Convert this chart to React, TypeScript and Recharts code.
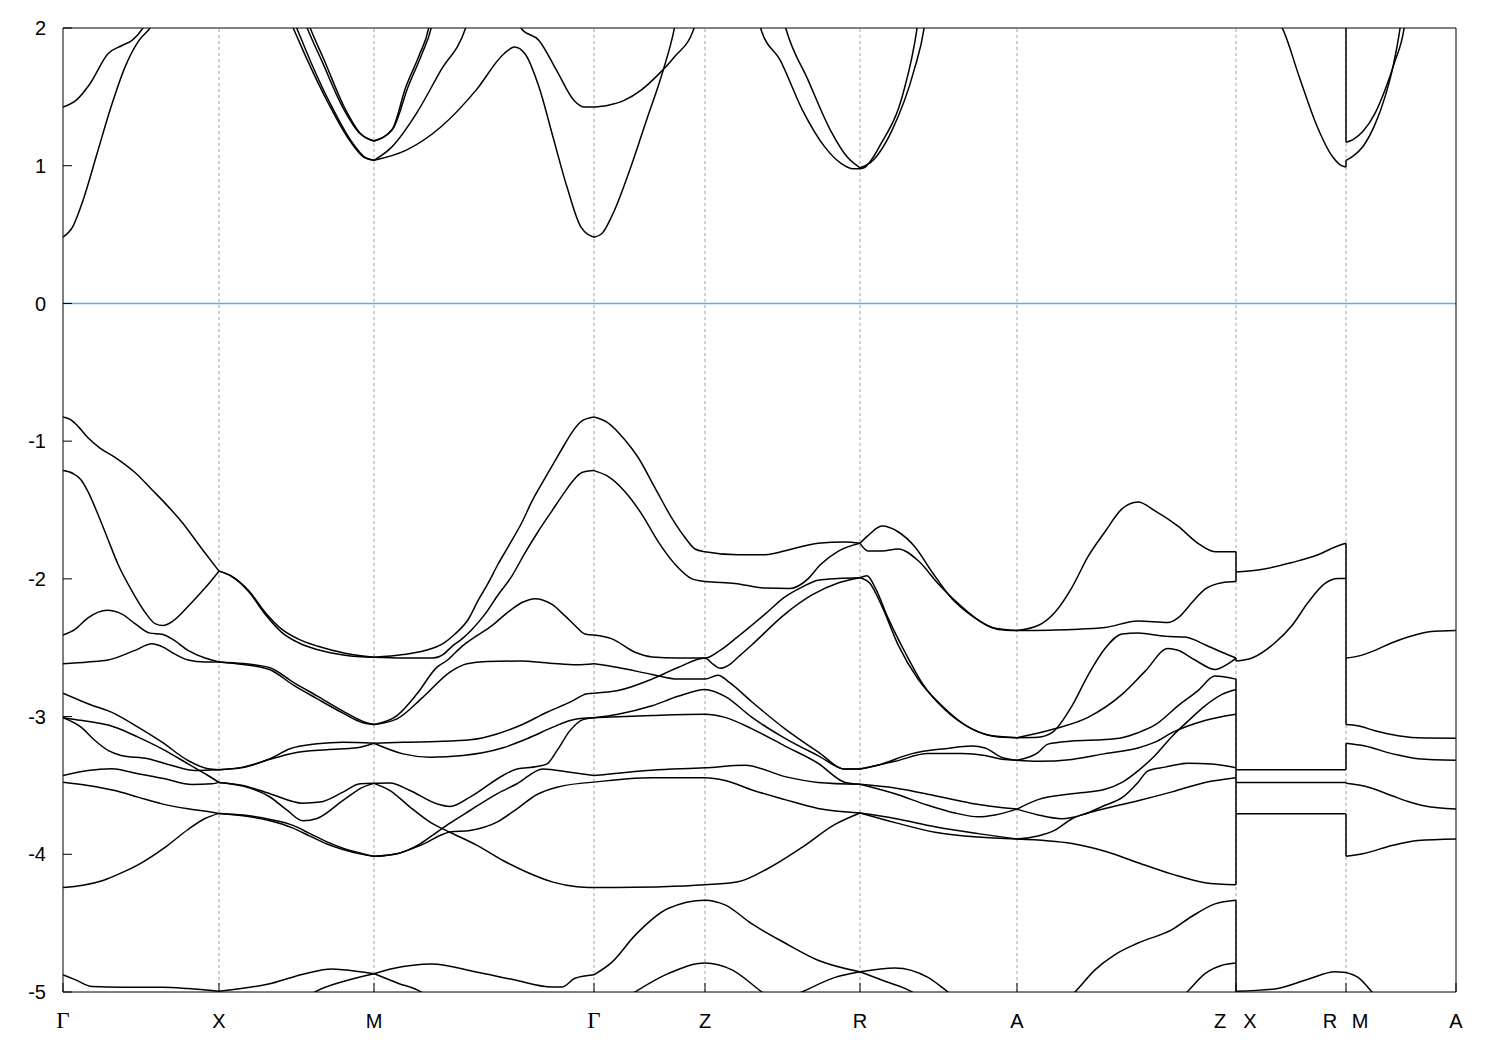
import { LineChart, Line, XAxis, YAxis, ReferenceLine } from 'recharts'

type Pt = [number, number]

// k-path: high-symmetry points (arbitrary k units) and their labels
const kTicks = [0, 156, 311, 531, 642, 797, 954, 1173, 1283, 1393]
const kLabels = ['Γ', 'X', 'M', 'Γ', 'Z', 'R', 'A', 'Z|X', 'R|M', 'A']
const eTicks = [-5, -4, -3, -2, -1, 0, 1, 2]

// valence bands, grouped by path segment: [k, E(eV)]
const gammaX: Pt[][] = [
  [[0, -0.825], [8, -0.845], [16, -0.9], [25, -0.975], [37, -1.05], [52, -1.117], [72, -1.228], [89, -1.353], [102, -1.45], [119, -1.589], [139, -1.783], [156, -1.944]],
  [[0, -1.214], [10, -1.235], [18, -1.28], [25, -1.367], [35, -1.533], [45, -1.714], [55, -1.894], [69, -2.089], [82, -2.242], [92, -2.325], [100, -2.339], [110, -2.306], [125, -2.2], [142, -2.067], [156, -1.944]],
  [[0, -2.408], [12, -2.367], [25, -2.283], [44, -2.228], [59, -2.256], [72, -2.325], [87, -2.394], [99, -2.403], [109, -2.436], [125, -2.519], [142, -2.575], [156, -2.603]],
  [[0, -2.617], [25, -2.603], [45, -2.589], [72, -2.519], [89, -2.472], [99, -2.492], [112, -2.547], [125, -2.589], [142, -2.603], [156, -2.603]],
  [[0, -2.83], [25, -2.907], [52, -2.98], [75, -3.077], [99, -3.186], [125, -3.319], [145, -3.379], [156, -3.386]],
  [[0, -3.009], [10, -3.02], [52, -3.077], [75, -3.149], [99, -3.234], [125, -3.343], [145, -3.428], [156, -3.478]],
  [[0, -3.009], [18, -3.077], [32, -3.174], [45, -3.246], [58, -3.282], [85, -3.306], [109, -3.355], [132, -3.391], [156, -3.386]],
  [[0, -3.428], [25, -3.391], [49, -3.379], [75, -3.415], [102, -3.452], [129, -3.493], [149, -3.488], [156, -3.478]],
  [[0, -3.476], [25, -3.5], [52, -3.537], [75, -3.585], [99, -3.634], [125, -3.67], [145, -3.69], [156, -3.703]],
  [[0, -4.242], [20, -4.225], [40, -4.19], [60, -4.13], [79, -4.06], [102, -3.95], [125, -3.82], [142, -3.74], [156, -3.703]],
  [[0, -4.875], [12, -4.91], [29, -4.96], [59, -4.965], [100, -4.965], [125, -4.975], [156, -4.995]],
]

const xM: Pt[][] = [
  [[156, -1.944], [169, -1.983], [186, -2.089], [202, -2.242], [219, -2.367], [235, -2.436], [255, -2.49], [282, -2.54], [311, -2.57]],
  [[156, -1.944], [169, -1.983], [186, -2.095], [202, -2.255], [219, -2.39], [235, -2.462], [255, -2.515], [282, -2.555], [311, -2.57]],
  [[156, -2.603], [180, -2.615], [207, -2.645], [230, -2.75], [254, -2.85], [280, -2.96], [300, -3.035], [311, -3.058]],
  [[156, -2.603], [180, -2.622], [207, -2.66], [230, -2.77], [254, -2.87], [280, -2.975], [300, -3.045], [311, -3.058]],
  [[156, -3.386], [180, -3.367], [207, -3.306], [227, -3.234], [254, -3.198], [280, -3.186], [311, -3.194]],
  [[156, -3.386], [180, -3.37], [207, -3.31], [230, -3.266], [264, -3.241], [294, -3.227], [311, -3.194]],
  [[156, -3.478], [180, -3.5], [207, -3.56], [240, -3.629], [257, -3.621], [280, -3.549], [297, -3.488], [311, -3.485]],
  [[156, -3.478], [180, -3.505], [207, -3.584], [224, -3.68], [240, -3.757], [254, -3.74], [280, -3.609], [300, -3.512], [311, -3.485]],
  [[156, -3.703], [180, -3.715], [207, -3.747], [230, -3.79], [247, -3.85], [264, -3.91], [280, -3.955], [297, -3.99], [311, -4.015]],
  [[156, -3.703], [180, -3.72], [207, -3.757], [230, -3.81], [247, -3.868], [264, -3.925], [280, -3.965], [297, -3.997], [311, -4.015]],
  [[156, -4.995], [209, -4.936], [242, -4.867], [269, -4.833], [280, -4.839], [311, -4.867]],
  [[236, -5.08], [252, -5.0], [282, -4.92], [311, -4.867]],
]

const mGamma: Pt[][] = [
  [[311, -2.57], [340, -2.55], [362, -2.52], [380, -2.47], [392, -2.4], [405, -2.297], [415, -2.158], [425, -2.033], [435, -1.894], [445, -1.769], [459, -1.589], [469, -1.436], [482, -1.269], [492, -1.144], [502, -1.019], [509, -0.936], [519, -0.853], [531, -0.825]],
  [[311, -2.57], [340, -2.575], [370, -2.575], [380, -2.55], [389, -2.49], [399, -2.436], [409, -2.367], [422, -2.256], [435, -2.117], [449, -1.978], [462, -1.811], [475, -1.658], [489, -1.506], [502, -1.367], [509, -1.297], [519, -1.228], [531, -1.214]],
  [[311, -3.058], [334, -2.993], [354, -2.835], [374, -2.641], [384, -2.593], [399, -2.49], [412, -2.422], [429, -2.339], [445, -2.242], [459, -2.172], [472, -2.144], [489, -2.186], [502, -2.269], [512, -2.339], [522, -2.4], [531, -2.408]],
  [[311, -3.058], [334, -3.017], [360, -2.859], [387, -2.677], [404, -2.617], [424, -2.6], [457, -2.597], [487, -2.612], [514, -2.624], [531, -2.617]],
  [[311, -3.194], [340, -3.186], [374, -3.181], [407, -3.169], [434, -3.126], [457, -3.065], [484, -2.969], [507, -2.895], [524, -2.835], [531, -2.83]],
  [[311, -3.194], [340, -3.271], [367, -3.295], [400, -3.283], [440, -3.227], [464, -3.161], [490, -3.077], [507, -3.028], [520, -3.012], [531, -3.009]],
  [[311, -3.485], [327, -3.483], [347, -3.537], [374, -3.634], [387, -3.653], [407, -3.585], [440, -3.428], [454, -3.38], [474, -3.363], [484, -3.344], [494, -3.247], [507, -3.102], [520, -3.022], [531, -3.009]],
  [[311, -3.485], [327, -3.537], [347, -3.657], [367, -3.766], [387, -3.84], [414, -3.935], [440, -4.045], [464, -4.13], [490, -4.202], [514, -4.236], [531, -4.242]],
  [[311, -4.015], [334, -3.996], [357, -3.924], [374, -3.839], [387, -3.774], [407, -3.682], [434, -3.561], [454, -3.488], [480, -3.38], [507, -3.404], [531, -3.428]],
  [[311, -4.015], [334, -3.996], [357, -3.936], [387, -3.839], [407, -3.827], [434, -3.766], [454, -3.67], [474, -3.566], [494, -3.513], [531, -3.476]],
  [[311, -4.867], [330, -4.83], [369, -4.797], [412, -4.853], [450, -4.91], [489, -4.964], [499, -4.964], [512, -4.9], [531, -4.875]],
  [[311, -4.867], [335, -4.936], [358, -5.0], [372, -5.08]],
]

// Γ -> Z -> R
const gammaR: Pt[][] = [
  [[531, -0.825], [545, -0.867], [562, -0.992], [575, -1.117], [592, -1.339], [609, -1.561], [622, -1.7], [632, -1.783], [642, -1.803], [675, -1.825], [702, -1.825], [729, -1.783], [755, -1.742], [782, -1.733], [797, -1.742]],
  [[531, -1.214], [545, -1.256], [562, -1.367], [579, -1.533], [595, -1.728], [612, -1.894], [629, -2.0], [642, -2.019], [672, -2.033], [702, -2.067], [727, -2.07], [745, -2.0], [757, -1.9], [775, -1.8], [797, -1.742]],
  [[531, -2.408], [549, -2.436], [572, -2.533], [589, -2.567], [615, -2.575], [642, -2.575], [657, -2.52], [672, -2.436], [702, -2.256], [722, -2.131], [739, -2.06], [755, -2.01], [775, -1.997], [797, -1.992]],
  [[531, -2.83], [555, -2.811], [589, -2.728], [615, -2.644], [642, -2.575], [650, -2.62], [657, -2.65], [665, -2.63], [677, -2.556], [689, -2.478], [722, -2.256], [749, -2.117], [775, -2.03], [797, -1.992]],
  [[531, -2.617], [555, -2.644], [589, -2.694], [615, -2.728], [642, -2.728], [655, -2.7], [667, -2.756], [689, -2.894], [722, -3.089], [755, -3.256], [782, -3.381], [797, -3.381]],
  [[531, -3.009], [555, -2.983], [589, -2.922], [615, -2.853], [642, -2.803], [662, -2.853], [689, -3.006], [722, -3.158], [755, -3.283], [782, -3.381], [797, -3.381]],
  [[531, -3.009], [589, -2.992], [642, -2.983], [662, -3.006], [689, -3.089], [722, -3.214], [755, -3.339], [782, -3.478], [797, -3.492]],
  [[531, -3.428], [589, -3.389], [642, -3.372], [682, -3.353], [722, -3.436], [755, -3.478], [797, -3.492]],
  [[531, -3.476], [589, -3.444], [642, -3.444], [662, -3.464], [689, -3.533], [722, -3.603], [755, -3.667], [797, -3.7]],
  [[531, -4.242], [599, -4.236], [642, -4.222], [675, -4.2], [705, -4.103], [739, -3.95], [772, -3.783], [797, -3.7]],
  [[531, -4.875], [549, -4.783], [572, -4.589], [605, -4.394], [642, -4.333], [662, -4.367], [689, -4.506], [722, -4.644], [755, -4.769], [797, -4.853]],
  [[555, -5.08], [572, -5.0], [605, -4.867], [642, -4.789], [669, -4.839], [699, -5.0], [715, -5.08]],
  [[720, -5.06], [739, -5.0], [772, -4.894], [797, -4.853]],
]

const rA: Pt[][] = [
  [[797, -1.742], [805, -1.686], [819, -1.617], [835, -1.658], [852, -1.769], [869, -1.95], [889, -2.144], [909, -2.269], [929, -2.353], [954, -2.375]],
  [[797, -1.742], [805, -1.797], [819, -1.797], [835, -1.783], [855, -1.867], [875, -2.033], [892, -2.158], [915, -2.297], [935, -2.367], [954, -2.375]],
  [[797, -1.992], [804, -1.978], [812, -2.061], [825, -2.283], [842, -2.533], [859, -2.756], [882, -2.95], [909, -3.089], [932, -3.144], [954, -3.153]],
  [[797, -1.992], [807, -2.033], [819, -2.2], [835, -2.478], [855, -2.728], [879, -2.922], [905, -3.075], [929, -3.139], [954, -3.153]],
  [[797, -3.381], [815, -3.353], [849, -3.269], [882, -3.233], [909, -3.214], [922, -3.228], [939, -3.297], [954, -3.317]],
  [[797, -3.381], [832, -3.325], [865, -3.269], [899, -3.269], [922, -3.283], [939, -3.31], [954, -3.317]],
  [[797, -3.492], [832, -3.519], [872, -3.575], [909, -3.631], [954, -3.672]],
  [[797, -3.492], [832, -3.561], [865, -3.644], [892, -3.7], [915, -3.728], [932, -3.714], [954, -3.672]],
  [[797, -3.7], [832, -3.74], [872, -3.8], [915, -3.85], [954, -3.889]],
  [[797, -3.7], [832, -3.77], [872, -3.84], [915, -3.875], [954, -3.889]],
  [[797, -4.853], [832, -4.825], [865, -4.894], [885, -5.0], [900, -5.08]],
  [[797, -4.853], [822, -4.922], [849, -5.0], [860, -5.06]],
]

const aZ: Pt[][] = [
  [[954, -2.375], [975, -2.339], [992, -2.242], [1009, -2.061], [1025, -1.839], [1042, -1.658], [1059, -1.492], [1075, -1.442], [1092, -1.506], [1115, -1.617], [1135, -1.742], [1152, -1.803], [1173, -1.803]],
  [[954, -2.375], [1009, -2.367], [1042, -2.353], [1075, -2.306], [1105, -2.317], [1115, -2.283], [1129, -2.172], [1142, -2.075], [1159, -2.028], [1173, -2.019]],
  [[954, -3.153], [975, -3.15], [989, -3.117], [1009, -2.922], [1025, -2.7], [1042, -2.506], [1059, -2.4], [1075, -2.394], [1102, -2.417], [1122, -2.422], [1142, -2.478], [1159, -2.533], [1173, -2.575]],
  [[954, -3.153], [989, -3.094], [1025, -3.006], [1059, -2.839], [1082, -2.672], [1105, -2.506], [1115, -2.519], [1132, -2.589], [1152, -2.658], [1165, -2.617], [1173, -2.575]],
  [[954, -3.317], [975, -3.325], [1009, -3.311], [1042, -3.269], [1075, -3.228], [1092, -3.186], [1109, -3.117], [1142, -3.028], [1173, -2.983]],
  [[954, -3.317], [975, -3.261], [985, -3.2], [1009, -3.178], [1042, -3.167], [1059, -3.153], [1075, -3.117], [1092, -3.061], [1115, -2.922], [1135, -2.811], [1152, -2.706], [1173, -2.728]],
  [[954, -3.672], [975, -3.603], [1009, -3.561], [1042, -3.528], [1059, -3.478], [1075, -3.394], [1092, -3.283], [1109, -3.144], [1125, -3.033], [1142, -2.922], [1159, -2.839], [1173, -2.803]],
  [[954, -3.672], [975, -3.714], [999, -3.742], [1019, -3.714], [1042, -3.644], [1059, -3.589], [1075, -3.478], [1085, -3.394], [1102, -3.367], [1125, -3.339], [1149, -3.344], [1173, -3.372]],
  [[954, -3.889], [975, -3.867], [992, -3.825], [1009, -3.742], [1025, -3.7], [1042, -3.667], [1075, -3.611], [1109, -3.547], [1142, -3.478], [1173, -3.444]],
  [[954, -3.889], [1009, -3.922], [1042, -3.978], [1075, -4.061], [1109, -4.144], [1142, -4.206], [1173, -4.222]],
  [[998, -5.1], [1012, -5.0], [1032, -4.839], [1052, -4.728], [1075, -4.644], [1109, -4.547], [1129, -4.45], [1152, -4.36], [1173, -4.333]],
  [[1112, -5.08], [1124, -5.0], [1142, -4.867], [1159, -4.806], [1173, -4.789]],
]

const xR: Pt[][] = [
  [[1173, -1.95], [1195, -1.936], [1229, -1.881], [1255, -1.825], [1272, -1.769], [1283, -1.742]],
  [[1173, -2.597], [1189, -2.575], [1212, -2.464], [1229, -2.339], [1245, -2.172], [1262, -2.033], [1275, -1.997], [1283, -1.997]],
  [[1173, -3.386], [1283, -3.386]],
  [[1173, -3.478], [1283, -3.478]],
  [[1173, -3.706], [1283, -3.706]],
  [[1173, -4.995], [1212, -4.978], [1245, -4.908], [1272, -4.853], [1283, -4.858]],
]

const mA: Pt[][] = [
  [[1283, -2.575], [1295, -2.561], [1312, -2.519], [1329, -2.464], [1345, -2.422], [1362, -2.389], [1379, -2.378], [1393, -2.375]],
  [[1283, -3.058], [1295, -3.067], [1312, -3.103], [1335, -3.139], [1362, -3.156], [1393, -3.158]],
  [[1283, -3.194], [1302, -3.214], [1329, -3.269], [1355, -3.306], [1393, -3.317]],
  [[1283, -3.485], [1302, -3.506], [1329, -3.575], [1345, -3.617], [1362, -3.65], [1393, -3.672]],
  [[1283, -4.015], [1302, -3.992], [1329, -3.936], [1355, -3.9], [1393, -3.889]],
  [[1283, -4.858], [1295, -4.894], [1309, -5.0], [1320, -5.1]],
]

// conduction bands
const condGX: Pt[][] = [
  [[0, 0.481], [9.5, 0.554], [20, 0.748], [34, 1.087], [48, 1.426], [62, 1.716], [76, 1.91], [87, 2.0], [95, 2.1]],
  [[0, 1.426], [13, 1.474], [27, 1.595], [45, 1.813], [59, 1.873], [69, 1.91], [80, 2.0], [88, 2.1]],
]

const condMG: Pt[][] = [
  [[224, 2.1], [230.5, 1.995], [244.5, 1.765], [265.6, 1.45], [286.6, 1.184], [300.7, 1.063], [311, 1.039]],
  [[228, 2.1], [234, 1.995], [248, 1.75], [268, 1.44], [289, 1.17], [302, 1.06], [311, 1.039]],
  [[239, 2.1], [244.5, 1.995], [258.6, 1.765], [279.6, 1.426], [297.2, 1.232], [311, 1.179]],
  [[242, 2.1], [247.5, 1.995], [261, 1.77], [281, 1.43], [298, 1.23], [311, 1.179]],
  [[311, 1.039], [342.8, 1.111], [377.8, 1.281], [412.9, 1.547], [441, 1.813], [451.5, 1.862], [462, 1.813], [476, 1.571], [490, 1.208], [504, 0.845], [518, 0.554], [531, 0.481]],
  [[311, 1.039], [328.7, 1.135], [353.3, 1.378], [377.8, 1.692], [402.4, 1.995], [407, 2.1]],
  [[311, 1.179], [328.7, 1.257], [342.8, 1.571], [356.8, 1.813], [365.5, 1.995], [368, 2.1]],
  [[311, 1.179], [330, 1.27], [345, 1.571], [359, 1.813], [368, 1.995], [371, 2.1]],
  [[452, 2.1], [458.5, 1.995], [476, 1.91], [493.6, 1.692], [511, 1.474], [521.6, 1.426], [531, 1.426]],
]

const condGR: Pt[][] = [
  [[531, 0.481], [538.7, 0.506], [549.9, 0.651], [566.6, 0.966], [583.4, 1.329], [600.1, 1.692], [611.3, 1.995], [614, 2.1]],
  [[531, 1.426], [544.3, 1.438], [561.1, 1.474], [577.8, 1.547], [594.5, 1.656], [611.3, 1.789], [630.8, 1.995], [635, 2.1]],
  [[694, 2.1], [697.8, 1.995], [717.3, 1.765], [739.6, 1.402], [761.9, 1.135], [778.7, 1.014], [789.9, 0.978], [797, 0.978]],
  [[719, 2.1], [722.9, 1.995], [745.2, 1.62], [767.5, 1.257], [784.3, 1.063], [797, 0.985]],
  [[797, 0.978], [801, 0.985], [818, 1.16], [840, 1.523], [854, 1.995], [856, 2.1]],
  [[797, 0.985], [807, 1.02], [829, 1.257], [851, 1.692], [861, 1.995], [863, 2.1]],
]

const condXA: Pt[][] = [
  [[1210, 2.1], [1219.5, 1.995], [1236.3, 1.644], [1253, 1.305], [1269.8, 1.063], [1278.1, 1.002], [1283, 0.99]],
  [[1283, 1.039], [1290, 1.07], [1300, 1.14], [1312, 1.3], [1322, 1.5], [1330, 1.72], [1337, 1.995], [1339, 2.1]],
  [[1283, 1.17], [1290, 1.19], [1300, 1.25], [1312, 1.38], [1322, 1.55], [1332, 1.76], [1341, 1.995], [1343, 2.1]],
]

// band jumps at the path breaks Z|X and R|M: [k, E from, E to]
const jumps: [number, number, number][] = [
  [1173, -1.803, -2.019],
  [1173, -2.575, -2.597],
  [1173, -2.728, -4.222],
  [1173, -4.333, -5.1],
  [1283, -1.742, -3.058],
  [1283, -3.194, -3.386],
  [1283, -3.478, -3.485],
  [1283, -3.706, -4.015],
  [1283, 0.99, 1.039],
  [1283, 1.17, 2.1],
]

const toRows = (pts: Pt[]) => pts.map(([k, e]) => ({ k, e }))

const curves = [
  ...gammaX, ...xM, ...mGamma, ...gammaR, ...rA, ...aZ, ...xR, ...mA,
  ...condGX, ...condMG, ...condGR, ...condXA,
].map(toRows)

const jumpRows = jumps.map(([k, a, b]) => [{ k, e: a }, { k, e: b }])

const SANS = 'Liberation Sans, Arial, sans-serif'
const SERIF = 'Liberation Serif, Times New Roman, serif'

function KTick(props: any) {
  const { x, y, payload } = props
  const label = kLabels[kTicks.indexOf(payload.value)] ?? ''
  const base = y + 36
  const parts = label.split('|')
  if (parts.length === 2) {
    return (
      <g>
        <text x={x - 16} y={base} textAnchor="middle" fontSize={20} fontFamily={SANS} fill="#000">{parts[0]}</text>
        <text x={x + 14} y={base} textAnchor="middle" fontSize={20} fontFamily={SANS} fill="#000">{parts[1]}</text>
      </g>
    )
  }
  const isGamma = label === 'Γ'
  return (
    <text x={x} y={base} textAnchor="middle" fontSize={isGamma ? 23 : 20}
      fontFamily={isGamma ? SERIF : SANS} fill="#000">{label}</text>
  )
}

export default function App() {
  return (
    <div style={{ position: 'absolute', left: 0, top: 0, background: '#fff' }}>
      <LineChart width={1500} height={1050} margin={{ top: 8, right: 0, bottom: 8, left: 8 }}>
        <XAxis dataKey="k" type="number" domain={[0, 1393]} ticks={kTicks} interval={0}
          allowDataOverflow height={50} tickSize={-9} tickMargin={9} stroke="#000"
          tick={(p: any) => <KTick {...p} />} />
        <XAxis xAxisId="top" orientation="top" dataKey="k" type="number" domain={[0, 1393]}
          ticks={kTicks} interval={0} allowDataOverflow height={20} tickSize={-9} tick={false} stroke="#000" />
        <YAxis type="number" domain={[-5, 2]} ticks={eTicks} interval={0} allowDataOverflow
          width={55} tickSize={-9} tickMargin={26} stroke="#000"
          tick={{ fontSize: 20, fill: '#000', fontFamily: SANS }} />
        <YAxis yAxisId="right" orientation="right" type="number" domain={[-5, 2]} ticks={eTicks}
          interval={0} allowDataOverflow width={44} tickSize={-9} tick={false} stroke="#000" />

        {kTicks.slice(1, -1).map((k) => (
          <ReferenceLine key={'v' + k} x={k} stroke="#a0a0a0" strokeDasharray="3 3" />
        ))}
        <ReferenceLine y={0} stroke="#56b4e9" strokeWidth={1.5} />

        {curves.map((d, i) => (
          <Line key={'b' + i} data={d} dataKey="e" type="monotone" stroke="#000"
            strokeWidth={1.5} dot={false} isAnimationActive={false} />
        ))}
        {jumpRows.map((d, i) => (
          <Line key={'j' + i} data={d} dataKey="e" type="linear" stroke="#000"
            strokeWidth={1.5} dot={false} isAnimationActive={false} />
        ))}
      </LineChart>
    </div>
  )
}
